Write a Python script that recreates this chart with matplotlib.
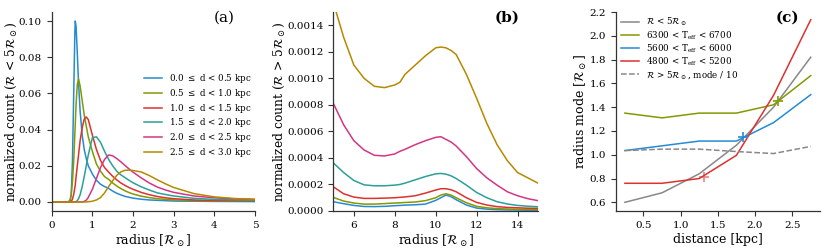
import numpy as np
import matplotlib
matplotlib.use('Agg')
import matplotlib.pyplot as plt

plt.rcParams['font.family'] = 'DejaVu Serif'
plt.rcParams['mathtext.fontset'] = 'dejavuserif'

# colours per distance bin / temperature group
colors = ['#268bd2', '#859900', '#dc322f', '#2aa198', '#d33682', '#b58900']
bin_labels = [r'0.0 $\leq$ d < 0.5 kpc', r'0.5 $\leq$ d < 1.0 kpc', r'1.0 $\leq$ d < 1.5 kpc',
              r'1.5 $\leq$ d < 2.0 kpc', r'2.0 $\leq$ d < 2.5 kpc', r'2.5 $\leq$ d < 3.0 kpc']

# panel (a): radius < 5 R_sun
radius_small = [0, 0.40, 0.45, 0.48, 0.51, 0.54, 0.57, 0.58, 0.60, 0.63, 0.66, 0.70, 0.75, 0.80,
                0.85, 0.90, 1.0, 1.1, 1.2, 1.3, 1.4, 1.5, 1.6, 1.7, 1.8, 1.9, 2.0, 2.2, 2.4, 2.6,
                2.8, 3.0, 3.5, 4.0, 4.5, 5.0]
count_d00 = [0, 0, .0003, .004, .022, .058, .094, .100, .097, .082, .066, .050, .037, .029, .024, .020,
             .0155, .012, .0098, .0085, .0075, .006, .0048, .0039, .0031, .0026, .0021,
             .0015, .0011, .0009, .0007, .0005, .0004, .0003, .00025, .0002]
count_d05 = [0, 0, .001, .004, .011, .022, .038, .043, .054, .065, .068, .064, .056, .048, .042, .036,
             .028, .021, .017, .014, .0125, .0105, .0088, .0074, .0062, .0052, .0044,
             .0032, .0024, .0018, .0014, .0011, .0007, .0005, .0004, .0004]
count_d10 = [0, 0, 0, .0003, .0015, .004, .008, .0095, .014, .020, .026, .034, .041, .0458, .047, .0455,
             .037, .029, .023, .019, .0165, .0142, .0122, .0105, .0092, .0080, .0070,
             .0053, .0040, .0030, .0023, .0018, .0011, .0008, .0007, .0006]
count_d15 = [0, 0, 0, 0, 0, 0, 0, 0, .0002, .0008, .0018, .004, .0085, .014, .020, .026,
             .0355, .0360, .033, .028, .0235, .020, .017, .0150, .0135, .0120, .0106,
             .0084, .0066, .0050, .0041, .0033, .0020, .0014, .0011, .0009]
count_d20 = [0, 0, 0, 0, 0, 0, 0, 0, 0, 0, 0, 0, 0, .0003, .001, .0025,
             .007, .013, .019, .0235, .026, .0255, .024, .0222, .0202, .0183, .0165,
             .0133, .0105, .0082, .0066, .0053, .0033, .0023, .0017, .0014]
count_d25 = [0, 0, 0, 0, 0, 0, 0, 0, 0, 0, 0, 0, 0, 0, 0, .0001,
             .0004, .0011, .0024, .005, .0085, .0118, .0147, .0166, .0175, .0176, .0174,
             .0166, .0146, .0122, .0100, .0080, .0046, .0028, .0019, .0015]

# panel (b): radius > 5 R_sun
radius_large = [5.0, 5.5, 6.0, 6.5, 7.0, 7.5, 8.0, 8.25, 8.5, 9.0, 9.5, 10.0, 10.25, 10.5, 10.75,
                11.0, 11.5, 12.0, 12.5, 13.0, 13.5, 14.0, 14.5, 15.0]
large_d00 = [.00007, .000055, .000042, .000034, .000033, .000035, .00004, .000042, .000044, .000047,
             .000052, .00008, .0001, .00012, .000108, .000085, .000045, .000022, .000014, .00001,
             .000008, .000007, .000006, .000006]
large_d05 = [.000102, .000075, .00006, .000052, .000052, .000056, .00006, .000062, .000064, .000068,
             .000078, .0001, .00012, .00013, .00012, .0001, .000062, .000035, .000024, .000018,
             .000015, .000013, .000012, .000011]
large_d10 = [.000182, .00013, .000105, .000095, .000095, .000097, .0001, .000103, .000106, .000115,
             .000135, .000158, .000168, .000168, .00016, .000145, .0001, .000065, .000045, .000033,
             .000027, .000024, .000021, .00002]
large_d15 = [.000362, .00029, .00023, .000197, .00019, .00019, .000195, .0002, .00021, .000235,
             .00026, .00028, .000283, .000278, .000265, .000245, .000195, .00014, .0001, .00007,
             .000053, .000042, .000036, .000032]
large_d20 = [.00081, .00065, .00053, .00046, .00042, .000415, .00043, .00045, .000465, .0005,
             .00053, .000555, .00056, .00054, .00052, .00049, .00041, .00032, .00025, .000195,
             .000145, .000115, .000093, .000078]
large_d25 = [.00157, .00131, .0011, .001, .00094, .00093, .00095, .00097, .00103, .0011,
             .00117, .00123, .001236, .00123, .00121, .00118, .00103, .00085, .00066, .0005,
             .00038, .00029, .00025, .00021]

# panel (c): radius mode vs distance
distance = [0.25, 0.75, 1.25, 1.75, 2.25, 2.75]
mode_small = [0.60, 0.68, 0.84, 1.08, 1.40, 1.82]
mode_hot = [1.35, 1.31, 1.35, 1.35, 1.42, 1.665]
mode_mid = [1.035, 1.075, 1.115, 1.115, 1.27, 1.505]
mode_cool = [0.76, 0.76, 0.80, 0.995, 1.50, 2.135]
mode_large = [1.035, 1.047, 1.047, 1.027, 1.01, 1.07]
marker_dist = [2.31, 1.845, 1.31]
marker_mode = [1.452, 1.145, 0.812]

small_counts = [count_d00, count_d05, count_d10, count_d15, count_d20, count_d25]
large_counts = [large_d00, large_d05, large_d10, large_d15, large_d20, large_d25]

fig = plt.figure(figsize=(8.31, 2.5), dpi=100)
ax1 = fig.add_axes([0.0622, 0.156, 0.2447, 0.796])
ax2 = fig.add_axes([0.4012, 0.156, 0.2462, 0.796])
ax3 = fig.add_axes([0.7408, 0.156, 0.2460, 0.796])

for ax in (ax1, ax2, ax3):
    ax.spines['top'].set_visible(False)
    ax.spines['right'].set_visible(False)
    ax.tick_params(labelsize=7.5, length=3.5, width=0.8, color='#333333')
    for s in ('left', 'bottom'):
        ax.spines[s].set_color('#333333')
        ax.spines[s].set_linewidth(0.9)

# (a)
for vals, c, lab in zip(small_counts, colors, bin_labels):
    ax1.plot(radius_small, vals, color=c, lw=1.1, label=lab)
ax1.set_xlim(0, 5)
ax1.set_ylim(-0.005, 0.105)
ax1.set_yticks([0, 0.02, 0.04, 0.06, 0.08, 0.10])
ax1.set_xlabel(r'radius [$\mathcal{R}_\odot$]', fontsize=9, labelpad=2)
ax1.set_ylabel(r'normalized count ($\mathcal{R}$ < 5$\mathcal{R}_\odot$)', fontsize=8.8, labelpad=0)
ax1.text(0.85, 0.97, '(a)', transform=ax1.transAxes, ha='center', va='center', fontsize=11)
ax1.legend(loc='center right', bbox_to_anchor=(1.02, 0.48), frameon=False, fontsize=6.3,
           handlelength=2.0, labelspacing=0.2)

# (b)
for vals, c in zip(large_counts, colors):
    ax2.plot(radius_large, vals, color=c, lw=1.1)
ax2.set_xlim(5, 15)
ax2.set_ylim(0, 0.0015)
ax2.set_xticks([6, 8, 10, 12, 14])
ax2.set_yticks(np.arange(0, 0.00141, 0.0002))
ax2.set_xlabel(r'radius [$\mathcal{R}_\odot$]', fontsize=9, labelpad=2)
ax2.set_ylabel(r'normalized count ($\mathcal{R}$ > 5$\mathcal{R}_\odot$)', fontsize=8.8, labelpad=0)
ax2.text(0.85, 0.97, '(b)', transform=ax2.transAxes, ha='center', va='center', fontsize=11,
         fontweight='bold')

# (c)
ax3.plot(distance, mode_small, color='#888888', lw=1.1, label=r'$\mathcal{R}$ < 5$\mathcal{R}_\odot$')
ax3.plot(distance, mode_hot, color=colors[1], lw=1.1, label=r'6300 < T$_{\rm eff}$ < 6700')
ax3.plot(distance, mode_mid, color=colors[0], lw=1.1, label=r'5600 < T$_{\rm eff}$ < 6000')
ax3.plot(distance, mode_cool, color=colors[2], lw=1.1, label=r'4800 < T$_{\rm eff}$ < 5200')
ax3.plot(distance, mode_large, color='#888888', lw=1.1, ls='--',
         label=r'$\mathcal{R}$ > 5$\mathcal{R}_\odot$, mode / 10')
for xm, ym, c, a in zip(marker_dist, marker_mode, [colors[1], colors[0], colors[2]], [1, 1, 0.6]):
    ax3.plot(xm, ym, marker='+', ms=7, mew=1.2, color=c, alpha=a)
ax3.set_ylim(0.527, 2.2)
ax3.set_xticks([0.5, 1.0, 1.5, 2.0, 2.5])
ax3.set_yticks([0.6, 0.8, 1.0, 1.2, 1.4, 1.6, 1.8, 2.0, 2.2])
ax3.set_xlabel('distance [kpc]', fontsize=9, labelpad=2)
ax3.set_ylabel(r'radius mode [$\mathcal{R}_\odot$]', fontsize=9, labelpad=0)
ax3.text(0.84, 0.97, '(c)', transform=ax3.transAxes, ha='center', va='center', fontsize=11,
         fontweight='bold')
ax3.legend(loc='upper left', bbox_to_anchor=(-0.01, 1.02), frameon=False, fontsize=6.3,
           handlelength=2.0, labelspacing=0.08)

fig.savefig('out.png', dpi=100)
